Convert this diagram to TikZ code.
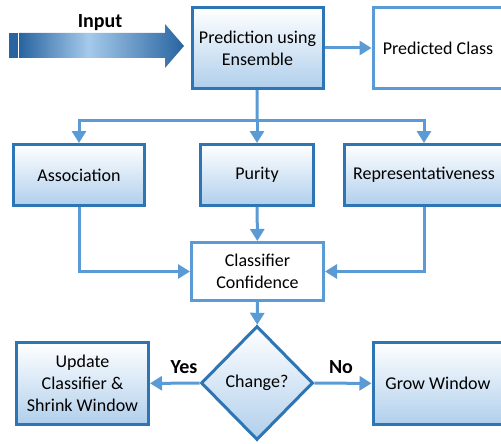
\documentclass[tikz,border=0pt]{standalone}
\usepackage{fontspec}
\setmainfont{Carlito}
\usepackage{tikz}
\usetikzlibrary{shapes.geometric,arrows.meta}

\definecolor{boxline}{RGB}{46,117,182}
\definecolor{boxlow}{RGB}{176,207,236}
\definecolor{arrowblue}{RGB}{91,155,213}
\definecolor{inputdark}{RGB}{40,100,160}
\definecolor{inputlight}{RGB}{165,202,235}

\pgfdeclarehorizontalshading{inputshade}{100bp}{color(0bp)=(inputdark); color(25bp)=(inputdark);
  color(46bp)=(inputlight); color(75bp)=(inputdark); color(100bp)=(inputdark)}

\begin{document}
\begin{tikzpicture}[x=1pt,y=-1pt,
  every node/.style={font=\fontsize{18}{22}\selectfont,text=black,align=center},
  shadedbox/.style={rectangle,draw=boxline,line width=3pt,top color=white,
    middle color=white!80!boxlow,bottom color=boxlow,inner sep=2pt},
  plainbox/.style={rectangle,draw=arrowblue,line width=3pt,fill=white,inner sep=2pt},
  conn/.style={draw=arrowblue,line width=3pt},
  arr/.style={conn,-{Triangle[length=12pt,width=14pt]}},
  yesno/.style={font=\fontsize{20}{24}\selectfont\bfseries,text=black}]

  \useasboundingbox (0,0) rectangle (501,444);

  % input arrow
  \fill[inputdark] (9,33) rectangle (18,58);
  \shade[shading=inputshade]
    (19,33) -- (165,33) -- (165,24) -- (184,46) -- (165,68) -- (165,58) -- (19,58) -- cycle;
  \node[yesno] (input) at (100,23) {Input};

  % top row
  \node[shadedbox,minimum width=131,minimum height=81] (pred) at (257.5,48) {Prediction using\\Ensemble};
  \node[plainbox,minimum width=130,minimum height=81] (cls) at (438,48) {Predicted Class};

  % criteria
  \foreach \name/\x/\w/\txt in {assoc/79/131/Association, purity/257/113/Purity,
                                 repr/424/159/Representativeness}
    \node[shadedbox,minimum width=\w,minimum height=61] (\name) at (\x,175) {\txt};

  \node[plainbox,minimum width=132,minimum height=58] (conf) at (257.5,271.5) {Classifier\\Confidence};

  % decision
  \node[shadedbox,diamond,minimum width=112,minimum height=114,inner sep=0pt] (change) at (257,383) {Change?};
  \node[shadedbox,minimum width=132,minimum height=82] (update) at (82.5,383.5) {Update\\Classifier \&\\Shrink Window};
  \node[shadedbox,minimum width=130,minimum height=82] (grow) at (438,383.5) {Grow Window};

  \coordinate (split) at (257,120);

  \draw[arr] (pred) -- (cls);
  \draw[conn] (pred) -- (split);
  \foreach \b in {assoc,purity,repr}
    \draw[arr] (split) -| (\b.north);

  \draw[arr] (assoc.south) |- (conf.west);
  \draw[arr] (purity) -- (conf);
  \draw[arr] (repr.south) |- (conf.east);
  \draw[arr] (conf) -- (change);

  \draw[arr] (change) -- (update);
  \draw[arr] (change) -- (grow);
  \node[yesno] (yes) at (184,367) {Yes};
  \node[yesno] (no) at (341,367) {No};

\end{tikzpicture}
\end{document}
